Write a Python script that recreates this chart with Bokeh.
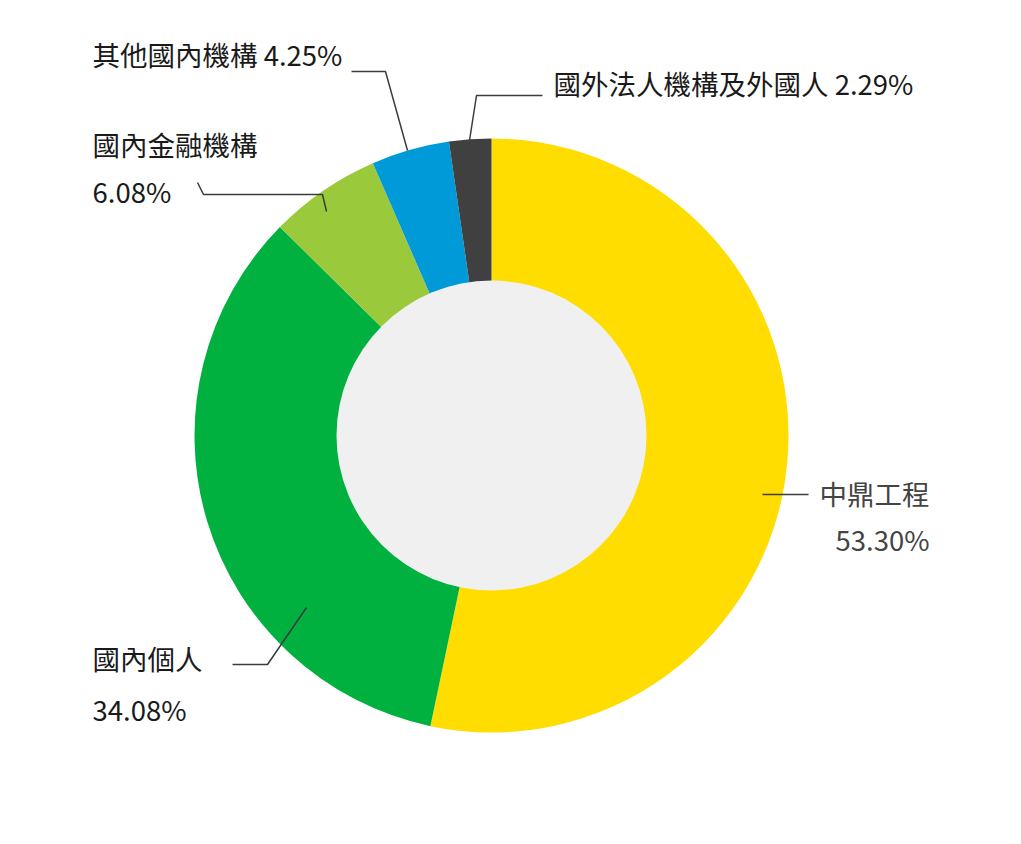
import math
from bokeh.plotting import figure
from bokeh.models import Range1d, ColumnDataSource
from bokeh.embed import file_html
from bokeh.resources import INLINE
from bokeh.core.properties import value

# ---- data ----
categories = ["中鼎工程", "國內個人", "國內金融機構", "其他國內機構", "國外法人機構及外國人"]
shares = [53.30, 34.08, 6.08, 4.25, 2.29]
colors = ["#FFDD00", "#00B140", "#9BC93C", "#009AD9", "#404040"]

# ---- layout ----
W, H = 1005, 828
PAGE_H = 844


def Y(sy):
    return PAGE_H - sy


p = figure(width=W, height=H, x_range=Range1d(0, W), y_range=Range1d(PAGE_H - H, PAGE_H),
           output_backend="svg", toolbar_location=None, min_border=0)
p.axis.visible = False
p.grid.visible = False
p.outline_line_color = None
p.background_fill_color = "white"

cx, cy = 491, Y(435)
R_OUT, R_IN = 297, 155

starts, ends = [], []
cum = 0.0
for s in shares:
    starts.append(math.pi / 2 - 2 * math.pi * cum / 100.0)
    cum += s
    ends.append(math.pi / 2 - 2 * math.pi * cum / 100.0)

src = ColumnDataSource(dict(cat=categories, share=shares, color=colors, start=starts, end=ends))
p.annular_wedge(x=cx, y=cy, inner_radius=R_IN - 1, outer_radius=R_OUT, start_angle="start", end_angle="end",
                direction="clock", fill_color="color", line_color=None, source=src)
p.circle(x=[cx], y=[cy], radius=R_IN, fill_color="#F0F0F0", line_color=None)

# leader lines (annotation layout, screen coords)
leaders = [
    [(762, 494), (808, 494)],                                # 中鼎工程
    [(306, 607), (267, 664), (232, 664)],                    # 國內個人
    [(326, 211), (322, 194), (203, 194), (197, 182)],        # 國內金融機構
    [(407, 150), (385, 71), (351, 71)],                      # 其他國內機構
    [(469, 140), (476, 95), (542, 95)],                      # 國外法人
]
p.multi_line(xs=[[pt[0] for pt in l] for l in leaders], ys=[[Y(pt[1]) for pt in l] for l in leaders],
             line_color="#3C3C3C", line_width=1.5)

FONT = value("Noto Sans CJK TC")
FS = "27.5px"
pct = [f"{s:.2f}%" for s in shares]

tx, ty, tt, ta, tc = [], [], [], [], []
DY = -3


def add(x, y, t, align="left", color="#1A1A1A"):
    tx.append(x); ty.append(Y(y + DY)); tt.append(t); ta.append(align); tc.append(color)


add(819, 495, categories[0], "left", "#444444")
add(929, 541, pct[0], "right", "#444444")
add(92, 660, categories[1])
add(92, 711, pct[1])
add(92, 146, categories[2])
add(92, 193, pct[2])
add(92, 56, f"{categories[3]} {pct[3]}")
add(553, 85, f"{categories[4]} {pct[4]}")

tsrc = ColumnDataSource(dict(x=tx, y=ty, t=tt, a=ta, c=tc))
p.text(x="x", y="y", text="t", text_align="a", text_color="c", text_baseline="middle",
       text_font=FONT, text_font_size=FS, source=tsrc)

open("out.html", "w").write(file_html(p, INLINE))
